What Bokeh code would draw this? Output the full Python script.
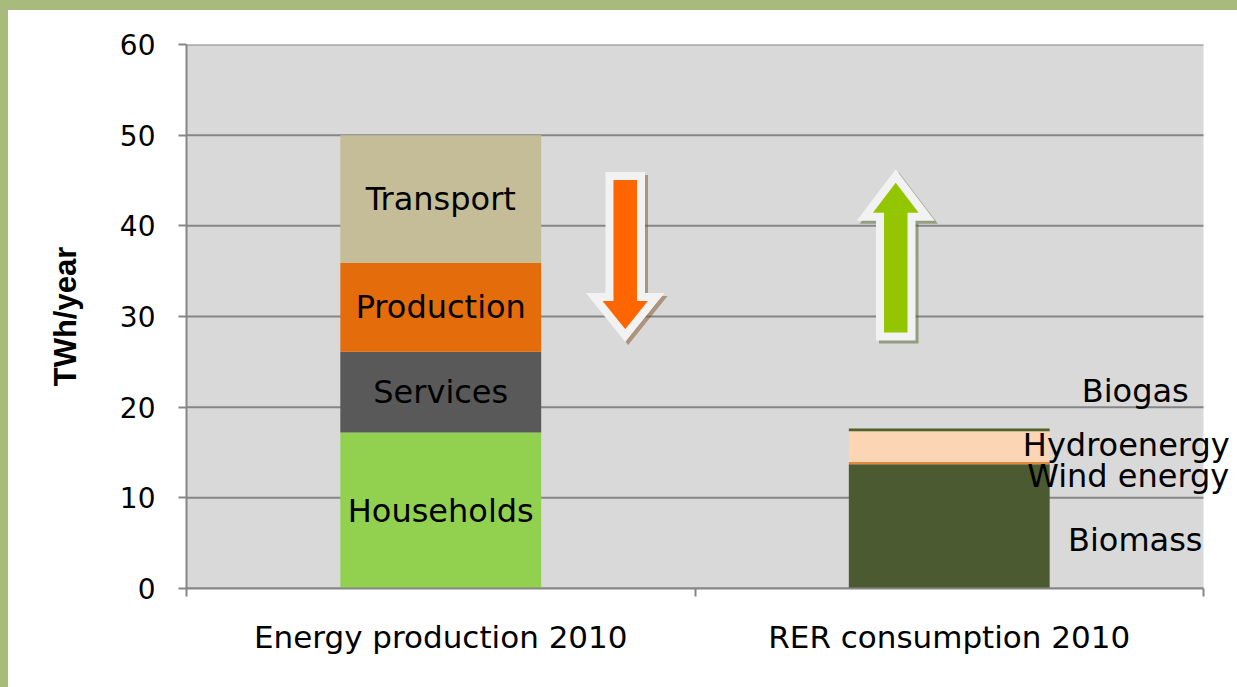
import numpy as np
from bokeh.plotting import figure
from bokeh.models import ColumnDataSource, FixedTicker, LabelSet, Range1d
from bokeh.core.properties import value
from bokeh.embed import file_html
from bokeh.resources import INLINE

# ---------------- data ----------------
categories = ["Energy production 2010", "RER consumption 2010"]

prod_series = ["Households", "Services", "Production", "Transport"]
prod_values = [17.2, 8.9, 9.8, 14.1]
prod_colors = ["#92d050", "#595959", "#e46c0a", "#c4bd97"]

rer_series = ["Biomass", "Wind energy", "Hydroenergy", "Biogas"]
rer_values = [13.7, 0.25, 3.4, 0.3]
rer_colors = ["#4b5a30", "#e4883c", "#fcd5b5", "#4f6228"]
# label offsets (screen px) for the side labels of the RER bar
rer_label_dx = [186, 179, 177, 186]
rer_label_dy = [-14, -13, 2, 39]

y_ticks = [0, 10, 20, 30, 40, 50, 60]
y_label = "TWh/year"

# ---------------- figure ----------------
BAND_T, BAND_L = 10, 8          # green frame of the slide (CSS border)
W, H = 1237, 687
FRAME_L, FRAME_T = 186 - BAND_L, 44 - BAND_T
FRAME_B = H - (588 - BAND_T)
X_END = 2.0
PX_PER_UNIT = 1017.0 / 2.0
x_extra = (W - FRAME_L) / PX_PER_UNIT - X_END   # room for the side labels

p = figure(width=W, height=H, output_backend="svg", toolbar_location=None,
           x_range=Range1d(0, X_END + x_extra), y_range=Range1d(0, y_ticks[-1]),
           min_border_left=FRAME_L, min_border_right=0,
           min_border_top=FRAME_T, min_border_bottom=FRAME_B,
           background_fill_color="white", border_fill_color="white",
           outline_line_color=None,
           styles={"border-top": f"{BAND_T}px solid #a8bb7d",
                   "border-left": f"{BAND_L}px solid #a8bb7d"})

AX = "#868686"
p.quad(left=0, right=X_END, bottom=y_ticks[0], top=y_ticks[-1],
       fill_color="#d9d9d9", line_color=None, level="underlay")
p.segment(x0=[0] * len(y_ticks), x1=[X_END] * len(y_ticks), y0=y_ticks, y1=y_ticks,
          line_color=AX, line_width=2, level="underlay")

BAR_W = 0.395

def stack_source(idx, values, colors, names):
    vals = np.array(values, dtype=float)
    tops = np.cumsum(vals)
    bottoms = tops - vals
    return ColumnDataSource(dict(
        x=[idx + 0.5] * len(vals), bottom=bottoms, top=tops,
        mid=(bottoms + tops) / 2, color=colors, name=names))

src_prod = stack_source(0, prod_values, prod_colors, prod_series)
src_rer = stack_source(1, rer_values, rer_colors, rer_series)
src_rer.data["dx"] = rer_label_dx
src_rer.data["dy"] = rer_label_dy

for src in (src_prod, src_rer):
    p.vbar(x="x", bottom="bottom", top="top", width=BAR_W, color="color",
           line_color=None, source=src)

# ---------------- arrows (decoration) ----------------
px_x = 1.0 / PX_PER_UNIT
px_y = 60.0 / 544.0

def block_arrow(cx, y_base, y_head, y_tip, shaft_hw, head_hw):
    xs = [cx - shaft_hw, cx + shaft_hw, cx + shaft_hw, cx + head_hw, cx,
          cx - head_hw, cx - shaft_hw]
    ys = [y_base, y_base, y_head, y_head, y_tip, y_head, y_head]
    return np.array(xs), np.array(ys)

arrows = [
    (block_arrow(0.8628, 45.5, 32.15, 27.9, 0.031, 0.061), "#ff6600", "#7f4f24"),
    (block_arrow(1.3948, 27.8, 41.0, 45.5, 0.031, 0.061), "#94c600", "#4f6228"),
]
for (xs, ys), fill, shadow in arrows:
    p.patch(xs + 3 * px_x, ys - 3 * px_y, fill_color=shadow, fill_alpha=0.5,
            line_color=shadow, line_alpha=0.5, line_width=8, line_join="miter")
    p.patch(xs, ys, fill_color=fill, line_color="#f2f2f2", line_width=8,
            line_join="miter")

# ---------------- labels ----------------
LABEL_FONT = "DejaVu Sans"
p.add_layout(LabelSet(x="x", y="mid", text="name", source=src_prod,
                      text_align="center", text_baseline="middle",
                      text_font=value(LABEL_FONT), text_font_size="32px",
                      text_color="black"))
p.add_layout(LabelSet(x="x", y="mid", text="name", source=src_rer,
                      x_offset="dx", y_offset="dy",
                      text_align="center", text_baseline="middle",
                      text_font=value(LABEL_FONT), text_font_size="32px",
                      text_color="black"))

# ---------------- axes ----------------
yax = p.yaxis[0]
yax.ticker = FixedTicker(ticks=y_ticks)
yax.axis_line_color = AX
yax.axis_line_width = 2
yax.major_tick_line_color = AX
yax.major_tick_line_width = 2
yax.major_tick_out = 8
yax.major_tick_in = 0
yax.minor_tick_line_color = None
yax.major_label_text_font = LABEL_FONT
yax.major_label_text_font_size = "28px"
yax.major_label_text_color = "black"
yax.major_label_standoff = 23
yax.axis_label = y_label
yax.axis_label_text_font = "Liberation Sans"
yax.axis_label_text_font_style = "bold"
yax.axis_label_text_font_size = "31px"
yax.axis_label_text_color = "black"
yax.axis_label_standoff = 34

xax = p.xaxis[0]
xax.bounds = (0, X_END)
xax.ticker = FixedTicker(ticks=[0.5, 1.5], minor_ticks=[0, 1, 2])
xax.major_label_overrides = {0.5: categories[0], 1.5: categories[1]}
xax.axis_line_color = AX
xax.axis_line_width = 2
xax.major_tick_line_color = None
xax.major_tick_out = 0
xax.major_tick_in = 0
xax.minor_tick_line_color = AX
xax.minor_tick_line_width = 2
xax.minor_tick_out = 8
xax.minor_tick_in = 0
xax.major_label_text_font = LABEL_FONT
xax.major_label_text_font_size = "31px"
xax.major_label_text_color = "black"
xax.major_label_standoff = 22

p.xgrid.visible = False
p.ygrid.visible = False

open("out.html", "w").write(file_html(p, INLINE))
